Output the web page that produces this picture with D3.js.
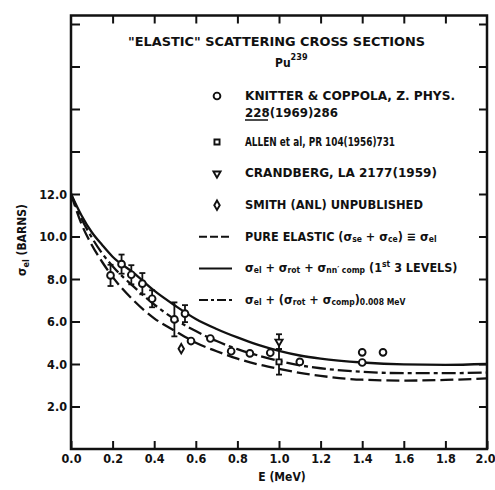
<!DOCTYPE html>
<html>
<head>
<meta charset="utf-8">
<script src="https://cdn.jsdelivr.net/npm/d3@7"></script>
<style>
  body { margin: 0; background: #fff; }
  svg { display: block; }
  text { font-family: "DejaVu Sans Condensed", "DejaVu Sans", sans-serif; font-weight: bold; fill: #111; }
</style>
</head>
<body>
<svg id="chart" width="495" height="490"></svg>
<script>
const curveE = [0, 0.05, 0.1, 0.15, 0.2, 0.3, 0.4, 0.5, 0.6, 0.7, 0.8, 0.9, 1.0, 1.1, 1.2, 1.4, 1.6, 1.8, 2.0];
// sigma_el + sigma_rot + sigma_nn' comp (solid)
const totalCurve = [12.0, 11.0, 10.2, 9.6, 9.05, 8.3, 7.45, 6.75, 6.12, 5.65, 5.25, 4.9, 4.62, 4.4, 4.25, 4.07, 3.98, 3.96, 4.0];
// sigma_el + (sigma_rot + sigma_comp) 0.008 MeV (dash-dot)
const compCurve = [12.0, 10.85, 9.95, 9.2, 8.6, 7.65, 6.8, 6.1, 5.55, 5.08, 4.7, 4.4, 4.15, 3.94, 3.8, 3.63, 3.57, 3.57, 3.6];
// pure elastic (dashed)
const pureCurve = [12.0, 10.6, 9.6, 8.8, 8.1, 7.0, 6.15, 5.55, 5.0, 4.6, 4.25, 3.98, 3.77, 3.58, 3.44, 3.26, 3.22, 3.25, 3.32];

// measured points
const knitterE   = [0.19, 0.243, 0.29, 0.343, 0.39, 0.497, 0.548, 0.577, 0.67, 0.77, 0.86, 0.958, 1.1, 1.4, 1.4, 1.5];
const knitterV   = [8.17, 8.7, 8.2, 7.78, 7.07, 6.1, 6.37, 5.08, 5.2, 4.6, 4.5, 4.53, 4.1, 4.55, 4.07, 4.55];
const knitterErr = [0.5, 0.45, 0.45, 0.5, 0.4, 0.8, 0.4, 0, 0, 0, 0, 0, 0, 0, 0, 0];
const allenE = [1.0], allenV = [4.1], allenErr = [0.6];
const crandE = [1.0], crandV = [5.05], crandErr = [0.35];
const smithE = [0.53], smithV = [4.72];

const xTicks = [0, 0.2, 0.4, 0.6, 0.8, 1.0, 1.2, 1.4, 1.6, 1.8, 2.0];
const yTicks = [2, 4, 6, 8, 10, 12, 14, 16, 18, 20];

const svg = d3.select("#chart");
svg.append("rect").attr("width", 495).attr("height", 490).attr("fill", "#fff");

const x = d3.scaleLinear().domain([0, 2]).range([71, 487]);
const y = d3.scaleLinear().domain([0, 12]).range([449, 194]);
const yTop = y(20.4);

// axes with inward ticks
const fmt = d => d.toFixed(1);
const gx = svg.append("g").attr("transform", `translate(0,${y(0)})`)
  .call(d3.axisBottom(x).tickValues(xTicks).tickSizeInner(-8).tickSizeOuter(0).tickPadding(5).tickFormat(fmt));
const gxt = svg.append("g").attr("transform", `translate(0,${yTop})`)
  .call(d3.axisTop(x).tickValues(xTicks.slice(1, -1)).tickSizeInner(-8).tickSizeOuter(0).tickFormat(""));
const gy = svg.append("g").attr("transform", `translate(${x(0)},0)`)
  .call(d3.axisLeft(y).tickValues(yTicks).tickSizeInner(-9).tickSizeOuter(0).tickPadding(4)
    .tickFormat(d => d <= 12 ? fmt(d) : ""));
const gyr = svg.append("g").attr("transform", `translate(${x(2)},0)`)
  .call(d3.axisRight(y).tickValues(yTicks).tickSizeInner(-8).tickSizeOuter(0).tickFormat(""));
[gx, gxt, gy, gyr].forEach(g => {
  g.select(".domain").remove();
  g.selectAll(".tick line").attr("stroke", "#111").attr("stroke-width", 2);
  g.selectAll("text").style("font-size", "12.5px").attr("fill", "#111");
});
// last x label sits against the page edge
gx.selectAll(".tick text").filter(d => d === 2).attr("text-anchor", "end").attr("x", 8);

svg.append("rect")
  .attr("x", x(0)).attr("y", yTop).attr("width", x(2) - x(0)).attr("height", y(0) - yTop)
  .attr("fill", "none").attr("stroke", "#111").attr("stroke-width", 2.5);

// axis titles
svg.append("text").attr("x", 282).attr("y", 481).attr("text-anchor", "middle")
  .style("font-size", "12px").text("E (MeV)");
const yl = svg.append("text").attr("transform", "translate(26,240) rotate(-90)")
  .attr("text-anchor", "middle").style("font-size", "12px");
yl.append("tspan").text("σ");
yl.append("tspan").attr("dy", 3).style("font-size", "9px").text("el");
yl.append("tspan").attr("dy", -3).text(" (BARNS)");

// curves
const line = d3.line().x(d => x(d[0])).y(d => y(d[1])).curve(d3.curveMonotoneX);
const curves = [
  { v: totalCurve, dash: null },
  { v: compCurve, dash: "14,4,4,4" },
  { v: pureCurve, dash: "13,5" }
];
curves.forEach(c => {
  svg.append("path").datum(curveE.map((e, i) => [e, c.v[i]]))
    .attr("d", line).attr("fill", "none").attr("stroke", "#111").attr("stroke-width", 2.3)
    .attr("stroke-dasharray", c.dash);
});

// error bars
function errBars(E, V, Err) {
  E.forEach((e, i) => {
    if (!Err[i]) return;
    const cx = x(e), y1 = y(V[i] + Err[i]), y2 = y(V[i] - Err[i]);
    svg.append("line").attr("x1", cx).attr("x2", cx).attr("y1", y1).attr("y2", y2)
      .attr("stroke", "#111").attr("stroke-width", 1.8);
    [y1, y2].forEach(yy => svg.append("line").attr("x1", cx - 3).attr("x2", cx + 3)
      .attr("y1", yy).attr("y2", yy).attr("stroke", "#111").attr("stroke-width", 1.8));
  });
}
errBars(knitterE, knitterV, knitterErr);
errBars(allenE, allenV, allenErr);
errBars(crandE, crandV, crandErr);

const sym = {
  circle: d3.symbol().type(d3.symbolCircle).size(36),
  square: d3.symbol().type(d3.symbolSquare).size(26),
  diamond: d3.symbol().type(d3.symbolDiamond).size(26),
  triangle: d3.symbol().type(d3.symbolTriangle).size(22)
};
function marker(px, py, kind) {
  svg.append("path").attr("d", sym[kind]())
    .attr("transform", `translate(${px},${py})` + (kind === "triangle" ? " rotate(180)" : ""))
    .attr("fill", "#fff").attr("stroke", "#111").attr("stroke-width", 1.9);
}
knitterE.forEach((e, i) => marker(x(e), y(knitterV[i]), "circle"));
allenE.forEach((e, i) => marker(x(e), y(allenV[i]), "square"));
crandE.forEach((e, i) => marker(x(e), y(crandV[i]), "triangle"));
smithE.forEach((e, i) => marker(x(e), y(smithV[i]), "diamond"));

// legend / title block
function txt(px, py, s, size, len, anchor) {
  const t = svg.append("text").attr("x", px).attr("y", py).attr("dominant-baseline", "middle")
    .attr("text-anchor", anchor || "start").style("font-size", size + "px").text(s);
  if (len) t.attr("textLength", len).attr("lengthAdjust", "spacingAndGlyphs");
  return t;
}
txt(128, 42, "\"ELASTIC\" SCATTERING CROSS SECTIONS", 13, 297);
const pu = svg.append("text").attr("x", 275).attr("y", 63).attr("dominant-baseline", "middle")
  .style("font-size", "12px");
pu.append("tspan").text("Pu");
pu.append("tspan").attr("dy", -6).style("font-size", "9px").text("239");

const legX = 245, mX = 217;
marker(mX, 96, "circle");
txt(legX, 96, "KNITTER & COPPOLA, Z. PHYS.", 12.5, 210);
const k2 = txt(legX, 113, "", 12.5, 93);
k2.append("tspan").text("228");
k2.append("tspan").text("(1969)286");
svg.append("line").attr("x1", legX).attr("x2", legX + 23).attr("y1", 120).attr("y2", 120)
  .attr("stroke", "#111").attr("stroke-width", 1.5);

const legY = [142, 173.6, 205.2, 236.8, 268.4, 300];
marker(mX, legY[0], "square");
txt(legX, legY[0], "ALLEN et al, PR 104(1956)731", 11.5, 150);
marker(mX, legY[1], "triangle");
txt(legX, legY[1], "CRANDBERG, LA 2177(1959)", 12.5, 192);
marker(mX, legY[2], "diamond");
txt(legX, legY[2], "SMITH (ANL) UNPUBLISHED", 12.5, 178);

function legLine(py, dash) {
  svg.append("line").attr("x1", 199).attr("x2", 232).attr("y1", py).attr("y2", py)
    .attr("stroke", "#111").attr("stroke-width", 2).attr("stroke-dasharray", dash);
}
legLine(legY[3], "8,3");
legLine(legY[4], null);
legLine(legY[5], "9,3,3,3");

function rich(py, parts) {
  const t = svg.append("text").attr("x", legX).attr("y", py).attr("dominant-baseline", "middle")
    .style("font-size", "12.5px");
  parts.forEach(p => {
    const s = t.append("tspan").text(p[0]);
    if (p[1] === "sub") s.attr("baseline-shift", "-30%").style("font-size", "8.5px");
    if (p[1] === "sup") s.attr("baseline-shift", "40%").style("font-size", "8.5px");
  });
  return t;
}
rich(legY[3], [["PURE ELASTIC ("], ["σ"], ["se", "sub"], [" + "], ["σ"], ["ce", "sub"], [") ≡ "], ["σ"], ["el", "sub"]]);
rich(legY[4], [["σ"], ["el", "sub"], [" + "], ["σ"], ["rot", "sub"], [" + "], ["σ"], ["nn′ comp", "sub"], [" (1"], ["st", "sup"], [" 3 LEVELS)"]]);
rich(legY[5], [["σ"], ["el", "sub"], [" + ("], ["σ"], ["rot", "sub"], [" + "], ["σ"], ["comp", "sub"], [")"], ["0.008 MeV", "sub"]]);
</script>
</body>
</html>
